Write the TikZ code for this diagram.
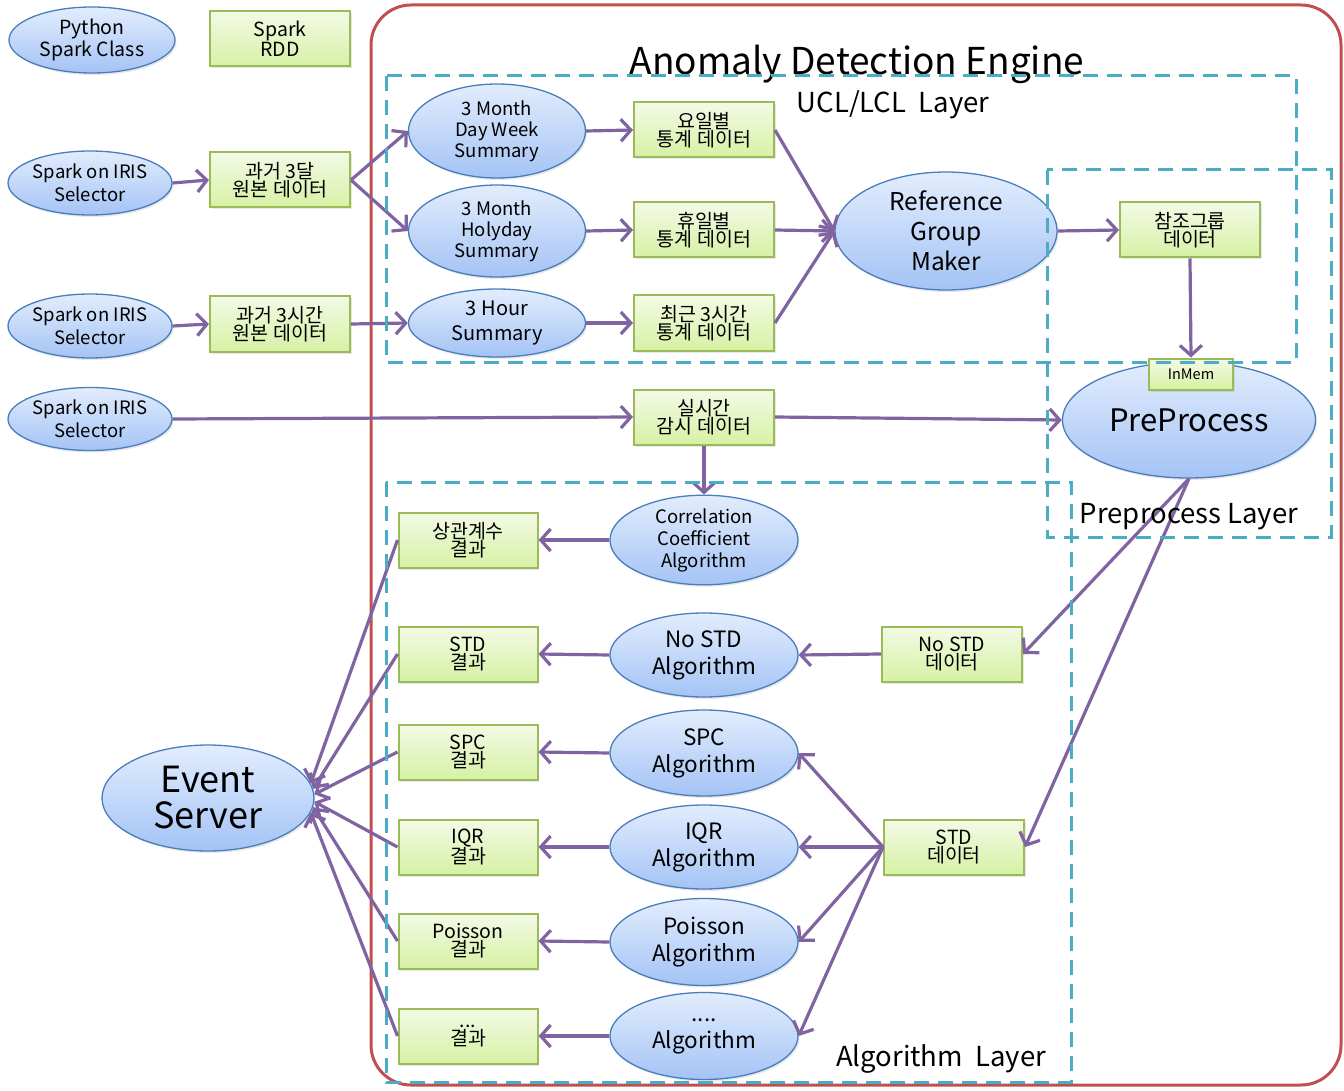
\documentclass[tikz,border=0pt]{standalone}
\usepackage{fontspec}
\setmainfont{Noto Sans CJK KR}
\usetikzlibrary{shapes.geometric,arrows.meta,shadows}

\definecolor{flowc}{HTML}{8064A2}
\definecolor{ellline}{HTML}{4A7EBB}
\definecolor{elltop}{HTML}{E2EDFD}
\definecolor{ellbot}{HTML}{A4C3F5}
\definecolor{boxline}{HTML}{9BBB59}
\definecolor{boxtop}{HTML}{F4FAE6}
\definecolor{boxbot}{HTML}{D6F1A4}
\definecolor{layerc}{HTML}{4BACC6}
\definecolor{enginec}{HTML}{C0504D}

\newcommand{\fsz}[2]{\fontsize{#1}{#2}\selectfont}

\tikzset{
  ell/.style={ellipse, draw=ellline, line width=1.3pt, top color=elltop, bottom color=ellbot,
    inner sep=0pt, align=center, text=black,
    drop shadow={shadow xshift=1.5pt, shadow yshift=-2pt, opacity=0.18}},
  databox/.style={rectangle, draw=boxline, line width=2pt, top color=boxtop, bottom color=boxbot,
    minimum width=140pt, minimum height=55pt, inner sep=0pt, align=center, text=black,
    font=\fsz{19.5}{18},
    drop shadow={shadow xshift=1.5pt, shadow yshift=-2pt, opacity=0.18}},
  flow/.style={draw=flowc, line width=3.2pt, -{Straight Barb[length=10pt,width=22pt]}},
  layer/.style={draw=layerc, line width=3pt, dash pattern=on 15pt off 9pt},
  lbl/.style={font=\fsz{27.5}{27.5}, anchor=base, inner sep=0pt},
}

\begin{document}
\begin{tikzpicture}[x=1pt,y=-1pt]
\useasboundingbox (0,0) rectangle (1344,1091);

% engine frame
\draw[enginec, line width=3pt, rounded corners=40pt] (371,5) rectangle (1341,1085);
\node[font=\fsz{37}{37}, anchor=base, inner sep=0pt] (title) at (857,75) {Anomaly Detection Engine};

% legend
\node[ell, minimum width=166pt, minimum height=66pt, font=\fsz{19.5}{22}] (psc) at (92,40) {Python\\Spark Class};
\node[databox, font=\fsz{19.5}{18}] (rdd) at (280,39) {Spark\\RDD};

% sources
\node[ell, minimum width=164pt, minimum height=64pt, font=\fsz{18.5}{23}] (sel1) at (90,183) {Spark on IRIS\\Selector};
\node[ell, minimum width=164pt, minimum height=64pt, font=\fsz{18.5}{23}] (sel2) at (90,326) {Spark on IRIS\\Selector};
\node[ell, minimum width=164pt, minimum height=63pt, font=\fsz{18.5}{23}] (sel3) at (90,419) {Spark on IRIS\\Selector};
\node[databox] (d3m) at (280,180) {과거 3달\\원본 데이터};
\node[databox] (d3h) at (280,324) {과거 3시간\\원본 데이터};

% UCL/LCL layer
\node[ell, minimum width=177pt, minimum height=94pt, font=\fsz{18.5}{21}] (dw) at (497,131) {3 Month\\Day Week\\Summary};
\node[ell, minimum width=177pt, minimum height=92pt, font=\fsz{18.5}{21}] (hd) at (497,231) {3 Month\\Holyday\\Summary};
\node[ell, minimum width=177pt, minimum height=68pt, font=\fsz{20}{25}] (hr) at (497,323) {3 Hour\\Summary};
\node[databox] (sdw) at (704,130) {요일별\\통계 데이터};
\node[databox] (shd) at (704,230) {휴일별\\통계 데이터};
\node[databox] (shr) at (704,323) {최근 3시간\\통계 데이터};
\node[ell, minimum width=222pt, minimum height=118pt, font=\fsz{24.5}{30}] (rgm) at (946,231) {Reference\\Group\\Maker};
\node[databox] (ref) at (1190,230) {참조그룹\\데이터};

% preprocess layer
\node[ell, minimum width=253pt, minimum height=116pt, font=\fsz{31}{31}] (pp) at (1189,420) {PreProcess};
\node[databox, minimum width=84pt, minimum height=31pt, font=\fsz{14.5}{14.5}] (inmem) at (1191,374) {InMem};
\node[databox] (rt) at (704,417) {실시간\\감시 데이터};

% algorithm layer
\node[ell, minimum width=188pt, minimum height=86pt, font=\fsz{18.5}{22}] (cc) at (704,540) {Correlation\\Coefficient\\Algorithm};
\node[ell, minimum width=188pt, minimum height=84pt, font=\fsz{22.5}{27}] (nsa) at (704,655) {No STD\\Algorithm};
\node[ell, minimum width=188pt, minimum height=86pt, font=\fsz{22.5}{27}] (spc) at (704,753) {SPC\\Algorithm};
\node[ell, minimum width=188pt, minimum height=84pt, font=\fsz{22.5}{27}] (iqr) at (704,847) {IQR\\Algorithm};
\node[ell, minimum width=188pt, minimum height=87pt, font=\fsz{22.5}{27}] (poi) at (704,942) {Poisson\\Algorithm};
\node[ell, minimum width=188pt, minimum height=87pt, font=\fsz{22.5}{27}] (etc) at (704,1036) {....\\Algorithm};

\node[databox, minimum width=139pt] (r1) at (468,540) {상관계수\\결과};
\node[databox, minimum width=139pt] (r2) at (468,654) {STD\\결과};
\node[databox, minimum width=139pt] (r3) at (468,752) {SPC\\결과};
\node[databox, minimum width=139pt] (r4) at (468,847) {IQR\\결과};
\node[databox, minimum width=139pt] (r5) at (468,941) {Poisson\\결과};
\node[databox, minimum width=139pt] (r6) at (468,1036) {...\\결과};

\node[databox] (nsd) at (952,654) {No STD\\데이터};
\node[databox] (sd) at (954,847) {STD\\데이터};

\node[ell, minimum width=212pt, minimum height=106pt, font=\fsz{36}{36}] (es) at (208,798) {Event\\Server};

% connectors
\draw[flow] (sel1.east) -- (d3m.west);
\draw[flow] (d3m.east) -- (dw.west);
\draw[flow] (d3m.east) -- (hd.west);
\draw[flow] (sel2.east) -- (d3h.west);
\draw[flow] (d3h.east) -- (hr.west);
\draw[flow] (sel3.east) -- (rt.west);
\draw[flow] (dw.east) -- (sdw.west);
\draw[flow] (hd.east) -- (shd.west);
\draw[flow] (hr.east) -- (shr.west);
\draw[flow] (sdw.east) -- (rgm.west);
\draw[flow] (shd.east) -- (rgm.west);
\draw[flow] (shr.east) -- (rgm.west);
\draw[flow] (rgm.east) -- (ref.west);
\draw[flow] (ref.south) -- (inmem.north);
\draw[flow] (rt.east) -- (pp.west);
\draw[flow] (rt.south) -- (cc.north);
\draw[flow] (pp.south) -- (nsd.east);
\draw[flow] (pp.south) -- (sd.east);
\draw[flow] (nsd.west) -- (nsa.east);
\draw[flow] (sd.west) -- (spc.east);
\draw[flow] (sd.west) -- (iqr.east);
\draw[flow] (sd.west) -- (poi.east);
\draw[flow] (sd.west) -- (etc.east);
\draw[flow] (cc.west) -- (r1.east);
\draw[flow] (nsa.west) -- (r2.east);
\draw[flow] (spc.west) -- (r3.east);
\draw[flow] (iqr.west) -- (r4.east);
\draw[flow] (poi.west) -- (r5.east);
\draw[flow] (etc.west) -- (r6.east);
\draw[flow] (r1.west) -- (es.8);
\draw[flow] (r2.west) -- (es.5);
\draw[flow] (r3.west) -- (es.2);
\draw[flow] (r4.west) -- (es.-2);
\draw[flow] (r5.west) -- (es.-5);
\draw[flow] (r6.west) -- (es.-8);

% layer frames
\draw[layer] (386,76) rectangle (1296,362);
\draw[layer] (1047,170) rectangle (1331,537);
\draw[layer] (386,482) rectangle (1071,1082);
\node[lbl] (ucl) at (893,113) {UCL/LCL\ \ Layer};
\node[lbl] (ppl) at (1189,523) {Preprocess Layer};
\node[lbl] (alg) at (941,1066) {Algorithm\ \ Layer};
\end{tikzpicture}
\end{document}
